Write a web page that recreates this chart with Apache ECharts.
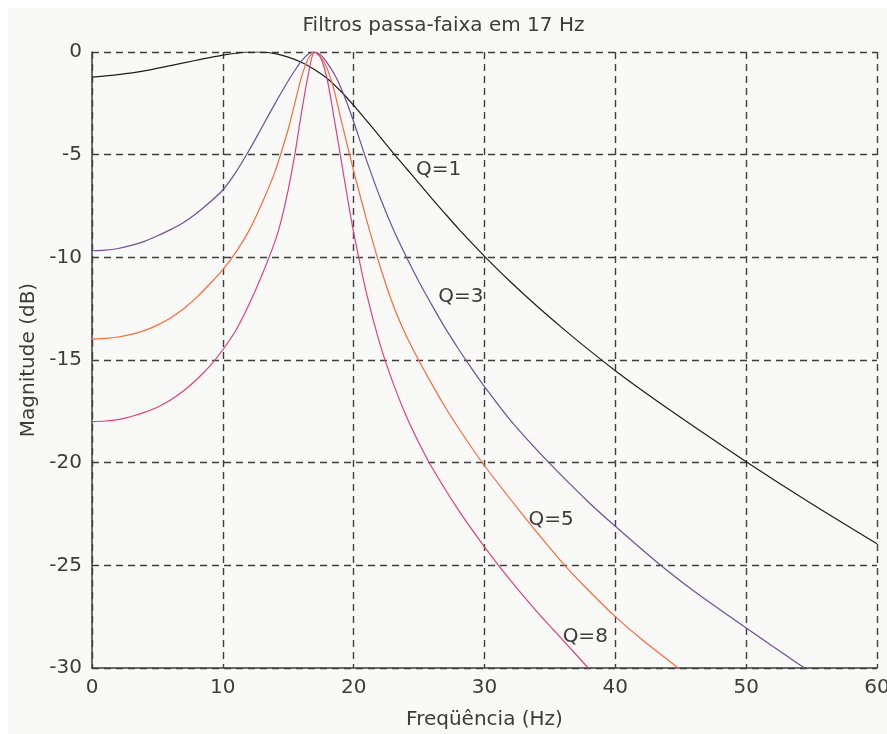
<!DOCTYPE html>
<html>
<head>
<meta charset="utf-8">
<title>Filtros passa-faixa em 17 Hz</title>
<script src="https://cdn.jsdelivr.net/npm/echarts@6/dist/echarts.min.js"></script>
<style>
  html, body { margin: 0; padding: 0; background: #ffffff; }
  #chart { width: 887px; height: 734px; }
</style>
</head>
<body>
<div id="chart"></div>
<script>
// Frequency axis ticks (Hz) and magnitude ticks (dB)
const freqTicks = [0, 10, 20, 30, 40, 50, 60];
const magTicks = [-30, -25, -20, -15, -10, -5, 0];

// Q = 1
const freqQ1 = [0, 2, 4, 6, 8, 10, 11, 12, 13, 14, 15, 16, 17, 18, 19, 20, 21, 22, 23, 24, 25, 26, 27, 28, 29, 30, 32, 34, 36, 38, 40, 42, 45, 50, 55, 60];
const magQ1  = [-1.22, -1.1, -0.92, -0.66, -0.4, -0.15, -0.06, 0, 0, -0.08, -0.25, -0.5, -0.85, -1.3, -1.9, -2.6, -3.35, -4.12, -4.9, -5.65, -6.4, -7.15, -7.88, -8.6, -9.28, -9.95, -11.2, -12.37, -13.47, -14.52, -15.52, -16.46, -17.8, -19.95, -22.0, -23.95];

// Q = 3
const freqQ3 = [0, 1, 2, 3, 4, 5, 6, 7, 8, 9, 10, 11, 12, 13, 14, 15, 15.5, 16, 16.5, 17, 17.5, 18, 18.5, 19, 19.5, 20, 20.5, 21, 22, 23, 24, 25, 26, 27, 28, 29, 30, 32, 35, 38, 40, 43, 46, 50, 54, 55];
const magQ3  = [-9.68, -9.65, -9.57, -9.42, -9.22, -8.95, -8.65, -8.3, -7.85, -7.32, -6.72, -5.85, -4.8, -3.65, -2.5, -1.4, -0.9, -0.45, -0.12, 0, -0.15, -0.55, -1.05, -1.7, -2.5, -3.4, -4.35, -5.3, -7.05, -8.6, -9.95, -11.2, -12.35, -13.45, -14.45, -15.4, -16.3, -17.95, -20.05, -21.95, -23.1, -24.75, -26.25, -28.05, -29.8, -30.2];

// Q = 5
const freqQ5 = [0, 1, 2, 3, 4, 5, 6, 7, 8, 9, 10, 11, 12, 13, 14, 15, 15.5, 16, 16.5, 17, 17.5, 18, 18.5, 19, 19.5, 20, 21, 22, 23, 24, 25, 26, 27, 28, 29, 30, 33, 36, 38, 40, 42, 44, 46];
const magQ5  = [-13.98, -13.95, -13.88, -13.75, -13.57, -13.3, -12.95, -12.5, -11.95, -11.3, -10.6, -9.75, -8.7, -7.35, -5.8, -3.75, -2.5, -1.25, -0.35, 0, -0.25, -0.85, -1.85, -3.2, -4.5, -5.8, -8.2, -10.4, -12.3, -13.8, -15.05, -16.2, -17.3, -18.3, -19.25, -20.15, -22.6, -24.9, -26.25, -27.5, -28.6, -29.6, -30.6];

// Q = 8
const freqQ8 = [0, 1, 2, 3, 4, 5, 6, 7, 8, 9, 10, 11, 12, 13, 14, 14.5, 15, 15.5, 16, 16.5, 17, 17.5, 18, 18.5, 19, 19.5, 20, 21, 22, 23, 24, 25, 26, 28, 30, 32, 34, 36, 38];
const magQ8  = [-18.0, -17.97, -17.9, -17.75, -17.55, -17.3, -16.95, -16.5, -15.95, -15.3, -14.5, -13.55, -12.3, -10.85, -9.2, -8.1, -6.7, -5.0, -3.0, -1.2, 0, -0.3, -1.4, -3.2, -5.1, -7.0, -8.8, -11.8, -14.2, -16.1, -17.7, -19.05, -20.25, -22.3, -24.1, -25.75, -27.25, -28.65, -30.05];

const curveNames = ['Q=1', 'Q=3', 'Q=5', 'Q=8'];

const TEXT = '#3c3c3c';
const FONT = 'DejaVu Sans';

function pairs(xs, ys) {
  return xs.map((x, i) => [x, ys[i]]);
}

// Each curve carries its own text tag, placed in data coordinates
function curve(name, xs, ys, color, tagAt) {
  return {
    name: name,
    type: 'line',
    data: pairs(xs, ys),
    showSymbol: false,
    symbol: 'none',
    smooth: 0.25,
    clip: true,
    lineStyle: { color: color, width: 1.2 },
    itemStyle: { color: color },
    markPoint: {
      symbol: 'circle',
      symbolSize: 0,
      silent: true,
      data: [{ coord: tagAt, value: name }],
      label: {
        show: true,
        position: 'inside',
        formatter: name,
        color: TEXT,
        fontFamily: FONT,
        fontSize: 20
      }
    }
  };
}

const chart = echarts.init(document.getElementById('chart'), null, { renderer: 'canvas' });

chart.setOption({
  backgroundColor: '#ffffff',
  animation: false,
  graphic: [{
    type: 'rect',
    z: -100,
    silent: true,
    shape: { x: 8, y: 8, width: 879, height: 726 },
    style: { fill: '#f9f9f7' }
  }],
  title: {
    text: 'Filtros passa-faixa em 17 Hz',
    left: 'center',
    top: 11,
    textStyle: { color: TEXT, fontFamily: FONT, fontSize: 20, fontWeight: 'normal' }
  },
  grid: {
    left: 92,
    right: 10,
    top: 52,
    bottom: 66,
    containLabel: false,
    outerBoundsMode: 'none'
  },
  xAxis: {
    type: 'value',
    min: freqTicks[0],
    max: freqTicks[freqTicks.length - 1],
    interval: freqTicks[1] - freqTicks[0],
    name: 'Freqüência (Hz)',
    nameLocation: 'middle',
    nameGap: 42,
    nameTextStyle: { color: TEXT, fontFamily: FONT, fontSize: 20 },
    axisLine: { onZero: false, lineStyle: { color: '#3f3f3f', width: 1.5 } },
    axisTick: { show: false },
    axisLabel: { color: TEXT, fontFamily: FONT, fontSize: 20, margin: 10 },
    splitLine: { show: true, lineStyle: { color: '#3f3f3f', width: 1.4, type: [7, 5] } }
  },
  yAxis: {
    type: 'value',
    min: magTicks[0],
    max: magTicks[magTicks.length - 1],
    interval: magTicks[1] - magTicks[0],
    name: 'Magnitude (dB)',
    nameLocation: 'middle',
    nameGap: 46,
    nameTextStyle: { color: TEXT, fontFamily: FONT, fontSize: 20 },
    axisLine: { show: true, onZero: false, lineStyle: { color: '#3f3f3f', width: 1.5 } },
    axisTick: { show: false },
    axisLabel: { color: TEXT, fontFamily: FONT, fontSize: 20, margin: 10 },
    splitLine: { show: true, lineStyle: { color: '#3f3f3f', width: 1.4, type: [7, 5] } }
  },
  series: [
    curve(curveNames[0], freqQ1, magQ1, '#1e1e1e', [26.5, -5.75]),
    curve(curveNames[1], freqQ3, magQ3, '#6e50a0', [28.2, -11.9]),
    curve(curveNames[2], freqQ5, magQ5, '#ff6a3a', [35.1, -22.8]),
    curve(curveNames[3], freqQ8, magQ8, '#e2407e', [37.7, -28.5])
  ]
});
</script>
</body>
</html>
